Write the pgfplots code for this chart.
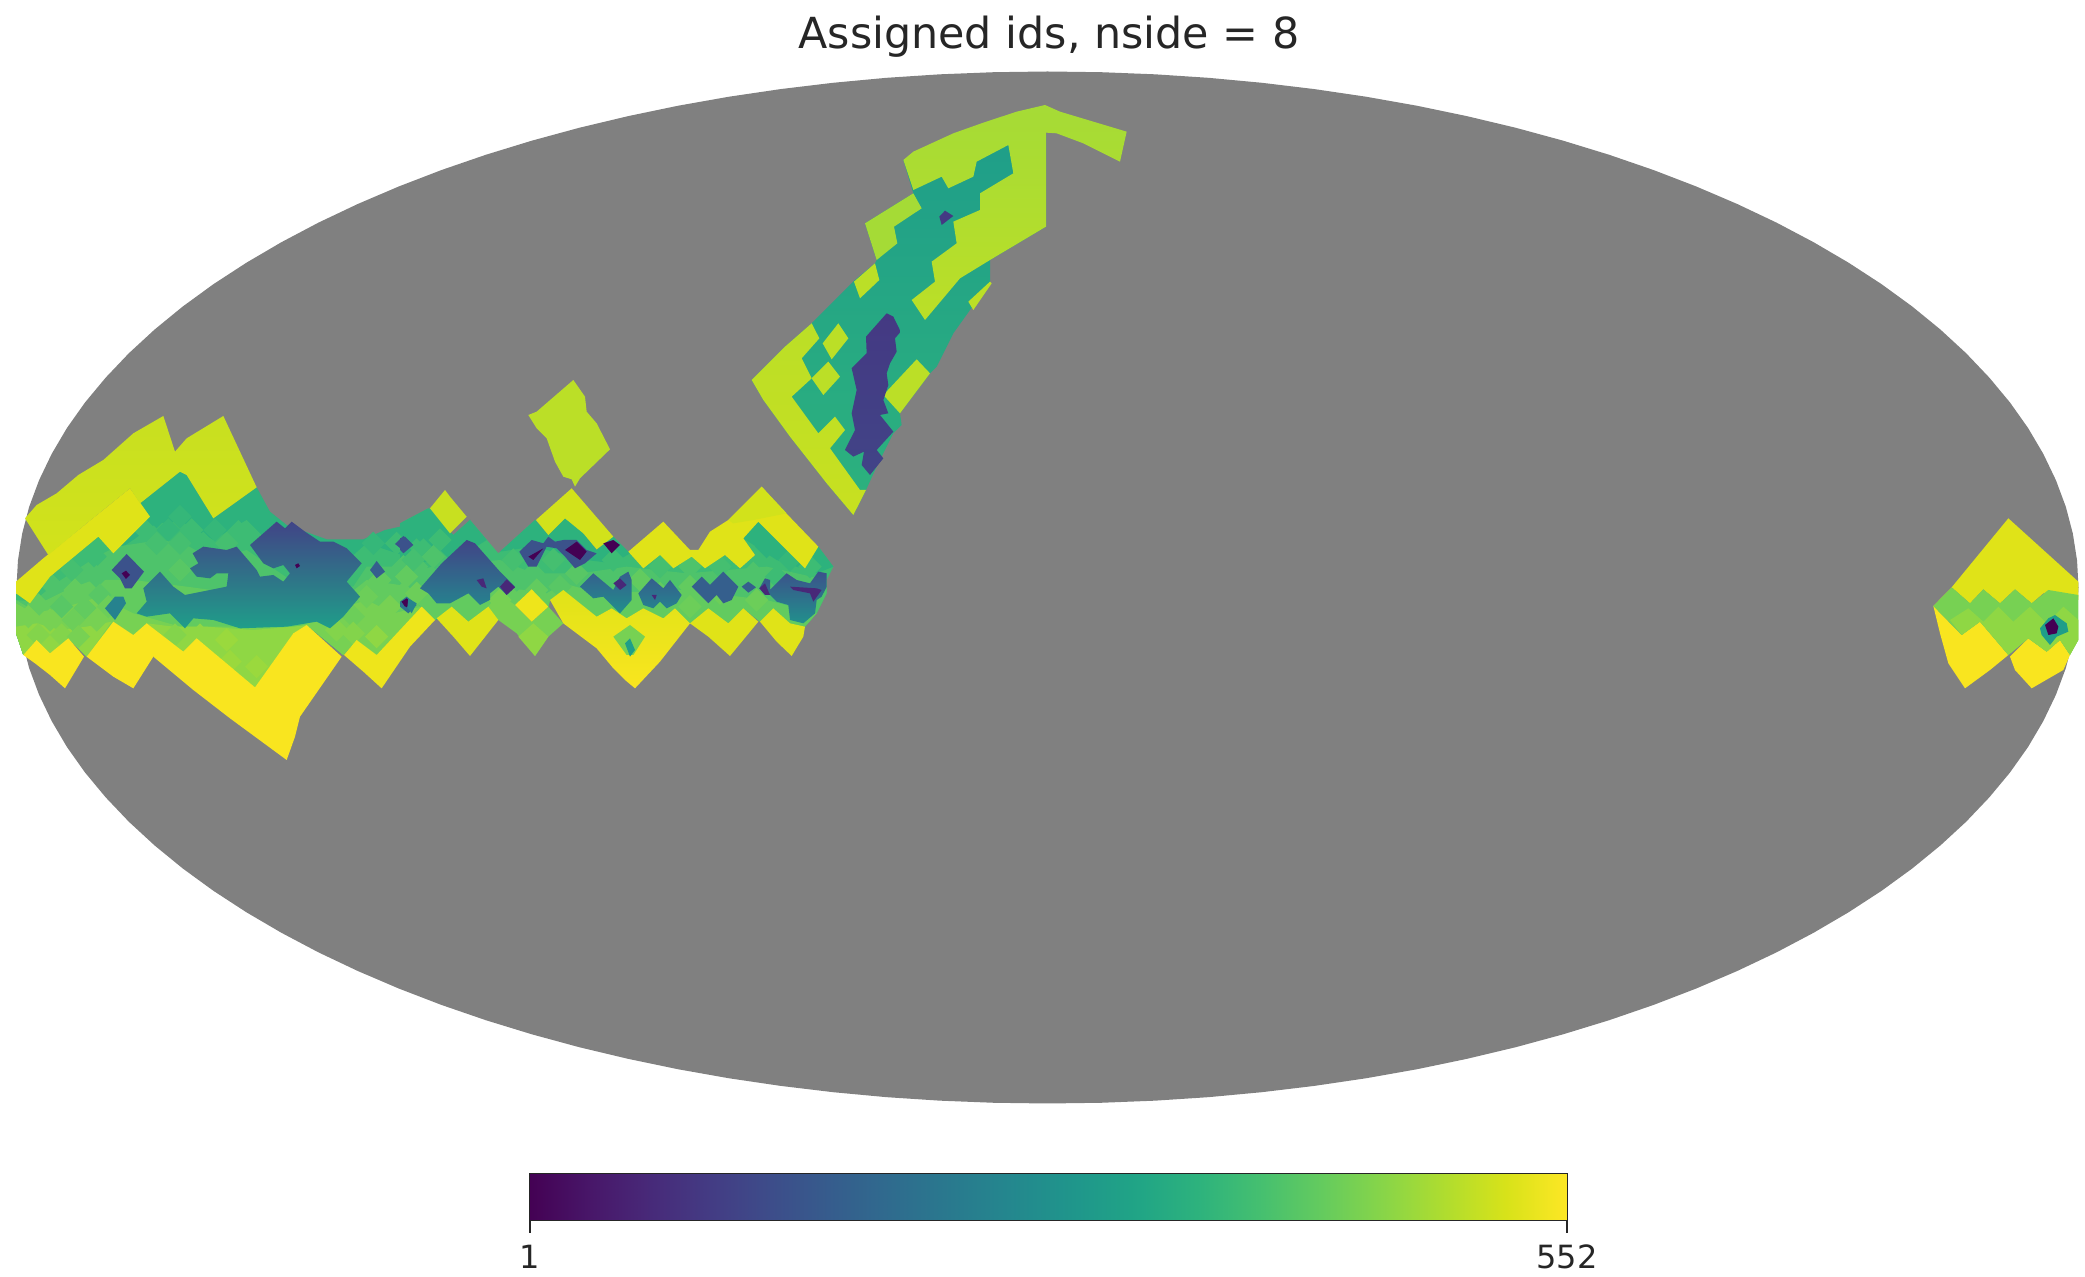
\documentclass[border=0pt]{standalone}
\usepackage{fontspec}
\setmainfont{DejaVu Sans}
\usepackage{pgfplots}
\pgfplotsset{compat=1.18}
\definecolor{vA}{HTML}{440154}\definecolor{vB}{HTML}{482878}\definecolor{vC}{HTML}{443983}
\definecolor{vD}{HTML}{414487}\definecolor{vE}{HTML}{3B528B}\definecolor{vF}{HTML}{355F8D}
\definecolor{vG}{HTML}{2C728E}\definecolor{vH}{HTML}{26828E}\definecolor{vI}{HTML}{21908C}
\definecolor{vJ}{HTML}{1F9E89}\definecolor{vK}{HTML}{22A884}\definecolor{vL}{HTML}{2DB27D}
\definecolor{vM}{HTML}{3DBC74}\definecolor{vN}{HTML}{4EC36B}\definecolor{vO}{HTML}{62CB5F}
\definecolor{vP}{HTML}{77D153}\definecolor{vQ}{HTML}{8FD744}\definecolor{vR}{HTML}{A5DB36}
\definecolor{vS}{HTML}{BBDF27}\definecolor{vT}{HTML}{C8E020}\definecolor{vU}{HTML}{D2E21B}
\definecolor{vV}{HTML}{E0E318}\definecolor{vW}{HTML}{EEE51B}\definecolor{vX}{HTML}{F9E51F}
\definecolor{gr}{HTML}{808080}
\colorlet{tA}{vL}\colorlet{tB}{vL!50!vM}\colorlet{tC}{vM}\colorlet{tD}{vM!50!vN}\colorlet{tE}{vN}
\colorlet{tF}{vN!50!vO}\colorlet{tG}{vO}\colorlet{tH}{vO!50!vP}\colorlet{tI}{vP}\colorlet{tJ}{vP!50!vQ}
\colorlet{tK}{vQ}\colorlet{tL}{vQ!50!vR}
\pgfplotsset{
 z1/.style={x filter/.expression={x/3},y filter/.expression={400+y/3}},
 z2/.style={x filter/.expression={400+x/3},y filter/.expression={360+y/3}},
 z3/.style={x filter/.expression={740+x/3},y filter/.expression={90+y/3}},
 z4/.style={x filter/.expression={1900+x/3},y filter/.expression={500+y/3}},
 ell/.style={x filter/.expression={1047.5+1031*x},y filter/.expression={587.5+516*y}},
 tile/.style n args={3}{forget plot,draw=none,fill=#1,
   x filter/.expression={#2/3+35*x/3},y filter/.expression={400+#3/3+35*y/3}},
}
\newcommand{\poly}[3]{\addplot[forget plot,draw=none,fill=#2,#1] coordinates {#3} -- cycle;}
\newcommand{\shad}[4]{\addplot[forget plot,draw=none,top color=#2,bottom color=#3,#1] coordinates {#4} -- cycle;}
\newcommand{\tile}[3]{\addplot[tile={#1}{#2}{#3}] coordinates {(-1,0)(0,-1)(1,0)(0,1)} -- cycle;}
\begin{document}
\begin{tikzpicture}
\path (0,0) rectangle (1042.5pt,638.5pt);
\begin{axis}[at={(0,0)},anchor=south west,width=1042.5pt,height=638.5pt,scale only axis,
 xmin=0,xmax=2085,ymin=0,ymax=1277,y dir=reverse,hide axis,clip=false]
% sphere
\poly{ell}{gr}{(1,0)(.9986,.0523)(.9945,.1045)(.9877,.1564)(.9781,.2079)(.9659,.2588)(.9511,.3090)(.9336,.3584)(.9135,.4067)(.8910,.4540)(.8660,.5)(.8387,.5446)(.8090,.5878)(.7771,.6293)(.7431,.6691)(.7071,.7071)(.6691,.7431)(.6293,.7771)(.5878,.8090)(.5446,.8387)(.5,.8660)(.4540,.8910)(.4067,.9135)(.3584,.9336)(.3090,.9511)(.2588,.9659)(.2079,.9781)(.1564,.9877)(.1045,.9945)(.0523,.9986)(0,1)
(-.0523,.9986)(-.1045,.9945)(-.1564,.9877)(-.2079,.9781)(-.2588,.9659)(-.3090,.9511)(-.3584,.9336)(-.4067,.9135)(-.4540,.8910)(-.5,.8660)(-.5446,.8387)(-.5878,.8090)(-.6293,.7771)(-.6691,.7431)(-.7071,.7071)(-.7431,.6691)(-.7771,.6293)(-.8090,.5878)(-.8387,.5446)(-.8660,.5)(-.8910,.4540)(-.9135,.4067)(-.9336,.3584)(-.9511,.3090)(-.9659,.2588)(-.9781,.2079)(-.9877,.1564)(-.9945,.1045)(-.9986,.0523)(-1,0)
(-.9986,-.0523)(-.9945,-.1045)(-.9877,-.1564)(-.9781,-.2079)(-.9659,-.2588)(-.9511,-.3090)(-.9336,-.3584)(-.9135,-.4067)(-.8910,-.4540)(-.8660,-.5)(-.8387,-.5446)(-.8090,-.5878)(-.7771,-.6293)(-.7431,-.6691)(-.7071,-.7071)(-.6691,-.7431)(-.6293,-.7771)(-.5878,-.8090)(-.5446,-.8387)(-.5,-.8660)(-.4540,-.8910)(-.4067,-.9135)(-.3584,-.9336)(-.3090,-.9511)(-.2588,-.9659)(-.2079,-.9781)(-.1564,-.9877)(-.1045,-.9945)(-.0523,-.9986)(0,-1)
(.0523,-.9986)(.1045,-.9945)(.1564,-.9877)(.2079,-.9781)(.2588,-.9659)(.3090,-.9511)(.3584,-.9336)(.4067,-.9135)(.4540,-.8910)(.5,-.8660)(.5446,-.8387)(.5878,-.8090)(.6293,-.7771)(.6691,-.7431)(.7071,-.7071)(.7431,-.6691)(.7771,-.6293)(.8090,-.5878)(.8387,-.5446)(.8660,-.5)(.8910,-.4540)(.9135,-.4067)(.9336,-.3584)(.9511,-.3090)(.9659,-.2588)(.9781,-.2079)(.9877,-.1564)(.9945,-.1045)(.9986,-.0523)}
% --- left block: greens
\poly{z1}{vL}{(48,580)(90,610)(150,530)(295,410)(340,460)(450,350)(420,310)(540,215)(560,225)(640,355)(770,262)(810,335)(860,375)(980,418)(1090,418)(1155,390)(1200,380)(1290,325)(1350,395)(1350,640)(1310,660)(1265,620)(1130,765)(1070,720)(1030,765)(920,675)(880,700)(765,862)(590,715)(550,755)(440,670)(400,705)(340,665)(260,770)(205,715)(150,760)(110,720)(70,765)(48,700)}
\poly{z1}{vM}{(48,580)(90,610)(150,530)(295,410)(340,460)(400,420)(470,370)(545,365)(640,420)(740,360)(830,450)(1000,520)(1100,430)(1220,470)(1200,600)(1265,620)(1130,765)(1070,720)(1030,765)(920,675)(880,700)(765,862)(590,715)(550,755)(440,670)(400,705)(340,665)(260,770)(205,715)(150,760)(110,720)(70,765)(48,700)}
\poly{z1}{vN}{(48,600)(100,605)(160,555)(290,470)(350,440)(480,420)(550,430)(640,480)(740,450)(900,560)(1060,560)(1100,500)(1200,500)(1265,620)(1130,765)(1070,720)(1030,765)(920,675)(880,700)(765,862)(590,715)(550,755)(440,670)(400,705)(340,665)(260,770)(205,715)(150,760)(110,720)(70,765)(48,700)}
\poly{z1}{vO}{(48,600)(90,625)(200,570)(280,540)(400,540)(560,560)(1000,620)(1100,540)(1230,560)(1265,620)(1130,765)(1070,720)(1030,765)(920,675)(880,700)(765,862)(590,715)(550,755)(440,670)(400,705)(340,665)(260,770)(205,715)(150,760)(110,720)(70,765)(48,700)}
\poly{z1}{vP}{(48,610)(100,640)(200,620)(300,590)(400,640)(540,680)(900,680)(1040,620)(1100,600)(1180,640)(1265,620)(1130,765)(1070,720)(1030,765)(920,675)(880,700)(765,862)(590,715)(550,755)(440,670)(400,705)(340,665)(260,770)(205,715)(150,760)(110,720)(70,765)(48,700)}
\poly{z1}{vQ}{(48,680)(110,670)(180,690)(260,680)(335,665)(260,770)(205,715)(150,760)(110,720)(70,765)(48,700)}
\poly{z1}{vQ}{(440,670)(520,680)(620,680)(760,690)(880,680)(920,675)(880,700)(765,862)(590,715)(550,755)}
% middle greens
\poly{z2}{vM}{(0,490)(85,445)(160,525)(210,480)(295,580)(405,480)(445,525)(495,475)(550,520)(590,570)(640,530)(685,575)(730,625)(780,585)(820,625)(875,590)(915,625)(975,585)(1020,625)(1065,585)(1030,535)(1075,485)(1140,550)(1215,625)(1255,560)(1300,620)(1280,660)(1280,700)(1250,760)(1215,800)(1170,790)(1120,745)(1080,785)(1030,745)(985,790)(925,745)(870,790)(825,745)(790,775)(730,745)(680,775)(635,745)(590,770)(490,690)(450,720)(445,740)(395,688)(345,735)(295,780)(265,740)(205,785)(155,740)(105,780)(65,740)(0,700)}
\poly{z2}{vL}{(0,490)(85,445)(160,525)(210,480)(260,540)(150,610)(0,600)}
\poly{z2}{vL}{(300,575)(405,480)(445,525)(495,475)(550,520)(590,570)(640,530)(690,580)(640,610)(560,600)(400,560)}
\poly{z2}{vL}{(1030,535)(1075,485)(1140,550)(1215,625)(1255,560)(1300,620)(1250,640)(1130,600)}
\poly{z2}{vN}{(0,640)(100,620)(300,600)(400,640)(540,640)(680,620)(860,640)(1100,620)(1280,660)(1280,700)(1250,760)(1215,800)(1170,790)(1120,745)(1080,785)(1030,745)(985,790)(925,745)(870,790)(825,745)(790,775)(730,745)(680,775)(635,745)(590,770)(490,690)(450,720)(445,740)(395,688)(345,735)(295,780)(265,740)(205,785)(155,740)(105,780)(65,740)(0,700)}
\poly{z2}{vO}{(0,700)(110,680)(300,680)(440,700)(490,670)(600,700)(850,690)(1100,720)(1250,760)(1215,800)(1170,790)(1120,745)(1080,785)(1030,745)(985,790)(925,745)(870,790)(825,745)(790,775)(730,745)(680,775)(635,745)(590,770)(490,690)(450,720)(445,740)(395,688)(345,735)(295,780)(265,740)(205,785)(155,740)(105,780)(65,740)}
\poly{z2}{vP}{(295,780)(265,740)(295,700)(345,735)(395,785)(445,740)(490,790)(445,830)(405,888)(350,820)}
\poly{z2}{vQ}{(355,830)(400,790)(445,830)(405,888)}
% --- tiles of the green zones
\tile{tA}{540}{310}\tile{tA}{470}{350}\tile{tB}{540}{350}\tile{tA}{610}{350}
\tile{tC}{435}{390}\tile{tB}{505}{390}\tile{tC}{575}{390}\tile{tB}{645}{390}\tile{tC}{715}{395}
\tile{tD}{470}{430}\tile{tD}{540}{430}\tile{tC}{610}{430}\tile{tD}{680}{430}
\tile{tC}{285}{470}\tile{tE}{505}{470}\tile{tD}{215}{510}\tile{tE}{290}{530}\tile{tF}{540}{510}
\tile{tE}{150}{550}\tile{tG}{225}{570}\tile{tF}{300}{585}\tile{tG}{115}{615}\tile{tF}{185}{620}
\tile{tG}{255}{625}\tile{tH}{325}{620}\tile{tI}{85}{650}\tile{tI}{150}{660}\tile{tH}{220}{660}\tile{tI}{290}{660}
\tile{tJ}{115}{705}\tile{tJ}{185}{705}\tile{tI}{235}{710}
\tile{tJ}{525}{705}\tile{tK}{600}{705}\tile{tL}{680}{720}\tile{tK}{760}{740}\tile{tL}{690}{785}\tile{tL}{770}{800}
\tile{tE}{1210}{500}\tile{tG}{1140}{540}\tile{tG}{1210}{580}\tile{tH}{1100}{590}\tile{tI}{1170}{620}
\tile{tI}{1120}{660}\tile{tH}{1060}{650}\tile{tJ}{1010}{690}\tile{tJ}{1060}{700}\tile{tK}{1130}{710}
\tile{tC}{1260}{440}\tile{tA}{1310}{410}\tile{tC}{1190}{430}\tile{tB}{1120}{430}\tile{tD}{1315}{480}\tile{tE}{1250}{500}
% further right, along the strip
\tile{tA}{1260}{390}\tile{tC}{1320}{420}\tile{tD}{1240}{480}\tile{tE}{1300}{470}\tile{tG}{1220}{530}\tile{tH}{1250}{580}
\tile{tD}{1540}{480}\tile{tE}{1600}{520}\tile{tD}{1660}{480}\tile{tF}{1730}{520}\tile{tF}{1680}{560}\tile{tG}{1610}{570}
\tile{tE}{1550}{540}\tile{tI}{1500}{600}\tile{tI}{1530}{640}
\tile{tC}{1840}{480}\tile{tG}{1920}{540}\tile{tD}{1980}{500}\tile{tE}{2070}{500}\tile{tG}{2070}{560}\tile{tH}{2070}{620}
\tile{tG}{1980}{580}\tile{tD}{2160}{500}\tile{tE}{2260}{520}\tile{tH}{2270}{600}\tile{tH}{2160}{580}
\tile{tC}{2330}{530}\tile{tA}{2300}{440}\tile{tB}{2370}{480}\tile{tC}{2430}{500}
% --- left block: yellow and lime
\poly{z1}{vX}{(70,765)(110,720)(150,760)(205,715)(252,770)(195,865)(150,825)(105,790)}
\poly{z1}{vX}{(260,770)(340,665)(400,705)(440,670)(470,730)(460,770)(400,865)(340,830)}
\poly{z1}{vX}{(460,770)(580,870)(690,955)(860,1080)(885,1010)(900,950)(1025,770)(920,675)(880,700)(765,862)(590,715)(550,755)(440,670)}
\poly{z1}{vW}{(1032,765)(1070,720)(1130,765)(1265,620)(1305,660)(1230,740)(1145,865)(1090,815)}
\poly{z1}{vV}{(48,545)(130,475)(260,370)(390,265)(450,350)(340,460)(295,410)(150,530)(90,610)(48,580)}
\shad{z1}{vT}{vU}{(75,355)(110,315)(170,280)(235,225)(310,180)(400,100)(490,48)(525,155)(560,115)(670,48)(770,262)(640,355)(560,225)(540,215)(420,310)(390,265)(260,370)(145,465)}
\poly{z1}{vT}{(1290,325)(1335,270)(1350,290)(1400,350)(1350,400)}
% --- middle: limes, yellows
\poly{z2}{vS}{(385,165)(410,155)(520,60)(555,110)(560,155)(590,190)(630,268)(540,355)(525,380)(515,358)(490,350)(465,305)(440,235)(410,205)}
\poly{z2}{vU}{(408,480)(515,385)(640,530)(590,568)(550,520)(495,475)(445,525)}
\poly{z2}{vV}{(685,575)(790,485)(870,570)(895,570)(930,515)(985,480)(1085,380)(1130,430)(1255,560)(1215,625)(1140,550)(1075,485)(1030,535)(1065,585)(1020,625)(975,585)(915,625)(875,590)(820,625)(780,585)(730,625)}
\poly{z2}{vU}{(985,480)(1085,380)(1160,460)(1060,480)(1000,490)}
\poly{z2}{vV}{(110,775)(155,740)(205,785)(265,740)(295,780)(210,888)(160,830)}
\poly{z2}{vW}{(345,735)(395,688)(445,740)(395,785)}
\shad{z2}{vV}{vX}{(450,720)(490,690)(590,770)(635,745)(680,775)(730,745)(790,775)(825,745)(870,790)(780,905)(705,985)(675,960)(640,925)(590,865)(490,790)}
\poly{z2}{vV}{(870,790)(925,745)(985,790)(1030,745)(1075,785)(990,888)(925,830)}
\poly{z2}{vV}{(1080,785)(1120,745)(1170,790)(1215,800)(1210,830)(1175,888)(1130,845)}
\poly{z2}{vP}{(640,830)(690,795)(735,830)(700,885)(680,885)}
\poly{z2}{vJ}{(675,850)(690,835)(705,870)(690,890)}
% --- left block: blues
\shad{z1}{vD}{vJ}{(410,640)(440,605)(430,565)(480,515)(520,560)(555,585)(680,560)(685,520)(650,520)(630,535)(590,530)(570,505)(595,490)(578,460)(610,440)(680,450)(710,440)(770,510)(780,530)(820,525)(850,545)(870,520)(850,495)(820,505)(790,490)(750,435)(830,365)(855,385)(875,365)(915,395)(960,425)(1000,425)(1040,445)(1085,490)(1040,545)(1080,590)(1030,650)(990,685)(950,665)(860,680)(720,685)(640,660)(580,655)(555,685)(510,640)(440,650)}
\poly{z1}{vE}{(335,510)(380,462)(432,515)(395,565)(375,565)(360,535)}
\poly{z1}{vA}{(365,520)(378,512)(390,525)(378,537)}
\poly{z1}{vH}{(315,625)(345,590)(370,590)(378,610)(345,660)}
\poly{z1}{vE}{(1185,432)(1210,408)(1238,435)(1210,452)}
\poly{z1}{vF}{(1110,510)(1130,483)(1155,515)(1130,535)}
\poly{z1}{vA}{(885,495)(895,490)(900,498)(890,505)}
% --- middle: blues
\poly{z2}{vE}{(0,535)(15,530)(40,555)(10,580)(0,570)}
\shad{z2}{vD}{vH}{(60,685)(125,610)(200,540)(225,550)(300,635)(345,680)(320,705)(295,680)(270,700)(270,720)(240,735)(205,700)(150,730)(110,730)(85,700)}
\poly{z2}{vB}{(300,680)(320,658)(345,682)(320,705)}
\poly{z2}{vB}{(230,660)(250,655)(260,685)(245,680)}
\poly{z2}{vG}{(0,725)(20,710)(50,735)(25,760)(0,740)}
\poly{z2}{vA}{(5,725)(22,718)(35,735)(15,740)}
\poly{z2}{vE}{(358,575)(395,540)(430,550)(445,530)(465,545)(490,540)(530,540)(560,570)(590,580)(555,610)(525,625)(495,590)(470,565)(440,560)(410,620)(385,620)}
\poly{z2}{vA}{(385,590)(430,565)(400,600)}
\poly{z2}{vA}{(495,570)(530,545)(560,575)(540,600)}
\poly{z2}{vA}{(610,550)(640,540)(660,555)(635,580)}
\shad{z2}{vF}{vI}{(540,680)(580,640)(640,690)(660,650)(685,635)(695,660)(695,720)(660,760)(610,710)(580,715)}
\poly{z2}{vB}{(640,670)(660,655)(680,675)(660,690)}
\shad{z2}{vF}{vH}{(715,700)(755,655)(790,685)(810,660)(845,705)(830,730)(800,745)(780,725)(760,745)(730,735)}
\poly{z2}{vB}{(755,705)(770,705)(765,720)}
\poly{z2}{vF}{(875,680)(905,650)(930,675)(970,635)(1015,680)(995,720)(970,730)(950,705)(925,730)}
\poly{z2}{vF}{(1025,680)(1045,665)(1068,682)(1045,698)}
\shad{z2}{vE}{vI}{(1078,685)(1095,655)(1110,660)(1110,690)(1160,640)(1190,660)(1230,670)(1255,635)(1280,640)(1280,680)(1265,710)(1250,720)(1245,760)(1210,790)(1170,780)(1165,735)(1130,725)(1110,705)}
\poly{z2}{vB}{(1078,685)(1095,670)(1110,705)(1095,705)}
\poly{z2}{vB}{(1170,680)(1250,685)(1265,690)(1240,725)(1230,700)(1180,690)}
\poly{z1}{vA}{(1205,605)(1220,595)(1235,610)(1220,622)}
\poly{z1}{vH}{(1225,595)(1250,610)(1235,640)(1222,622)}
% --- upper shape
\shad{z3}{vJ}{vL}{(35,870)(135,770)(215,700)(345,570)(405,520)(410,510)(375,400)(520,310)(490,210)(918,128)(918,410)(750,510)(750,575)(690,660)(640,730)(590,830)(570,850)(480,970)(485,1005)(460,1030)(410,1130)(378,1200)(340,1275)(260,1180)(150,1040)(70,930)}
\shad{z3}{vR}{vS}{(490,210)(520,185)(640,130)(730,98)(830,65)(915,45)(960,65)(1160,125)(1140,215)(1030,160)(950,130)(918,128)(918,410)(750,510)(660,565)(555,690)(515,630)(585,575)(575,515)(650,460)(640,395)(720,360)(720,310)(820,250)(805,165)(710,215)(700,260)(625,295)(605,260)(520,300)}
\poly{z3}{vR}{(375,400)(520,310)(545,355)(462,410)(472,460)(410,510)}
\poly{z3}{vS}{(342,575)(405,520)(418,570)(360,625)}
\poly{z3}{vS}{(248,760)(295,700)(325,745)(275,808)}
\poly{z3}{vS}{(215,865)(265,815)(300,860)(250,915)}
\shad{z3}{vS}{vT}{(35,870)(135,770)(215,700)(238,745)(185,805)(215,865)(155,920)(235,1030)(285,980)(315,1020)(270,1075)(360,1200)(378,1200)(340,1275)(260,1180)(150,1040)(70,930)}
\poly{z3}{vS}{(430,915)(530,808)(570,850)(480,970)}
\poly{z3}{vS}{(685,635)(750,575)(755,580)(700,660)}
\shad{z3}{vC}{vD}{(335,835)(380,790)(378,740)(440,670)(460,680)(482,725)(465,745)(470,785)(450,820)(440,850)(445,885)(430,930)(445,970)(420,975)(460,1025)(410,1080)(430,1105)(390,1155)(365,1125)(372,1085)(340,1100)(315,1080)(345,1020)(335,970)(350,900)}
\poly{z3}{vC}{(598,380)(615,362)(640,378)(605,405)}
% --- right block
\poly{z4}{vV}{(100,318)(155,262)(325,55)(535,245)(535,300)(430,280)(395,310)(345,268)(300,310)(250,268)(210,310)(155,262)}
\poly{z4}{vX}{(100,318)(185,405)(240,365)(325,465)(270,510)(195,565)(145,490)(120,400)}
\poly{z4}{vX}{(330,470)(385,415)(440,455)(480,420)(510,465)(490,510)(395,565)(345,510)}
\poly{z4}{vP}{(100,318)(155,262)(210,310)(250,268)(300,310)(345,268)(395,310)(445,270)(535,285)(535,420)(510,465)(480,420)(440,455)(385,415)(325,465)(240,365)(185,405)}
\poly{z4}{vQ}{(185,405)(150,360)(205,325)(250,365)(295,320)(340,365)(390,320)(440,370)(490,320)(535,360)(535,420)(510,465)(480,420)(440,455)(385,415)(325,465)(240,365)}
\poly{z4}{vJ}{(420,385)(445,355)(465,345)(500,370)(505,395)(470,410)(450,435)(425,405)}
\poly{z4}{vA}{(435,375)(460,355)(475,380)(470,400)(445,405)}
\node[font=\fontsize{21.4pt}{24pt}\selectfont,text=black!85] at (axis cs:1049,37) {Assigned ids, nside = 8};
\end{axis}
\begin{axis}[at={(265pt,28.5pt)},anchor=south west,width=518.5pt,height=23pt,scale only axis,
 xmin=1,xmax=552,ymin=0,ymax=1,xtick={1,552},ymajorticks=false,xtick pos=bottom,tick align=outside,
 major tick length=6.5pt,axis line style={line width=0.7pt,black!85},tick style={line width=0.6pt,black!85},
 colormap/viridis,ticklabel style={font=\fontsize{16pt}{18pt}\selectfont,text=black!85},
 /pgf/number format/assume math mode=true,xticklabel style={yshift=-2.5pt}]
\addplot[surf,shader=interp,point meta=x,forget plot] coordinates {(1,0)(139,0)(277,0)(415,0)(552,0)

(1,1)(139,1)(277,1)(415,1)(552,1)};
\end{axis}
\end{tikzpicture}
\end{document}
